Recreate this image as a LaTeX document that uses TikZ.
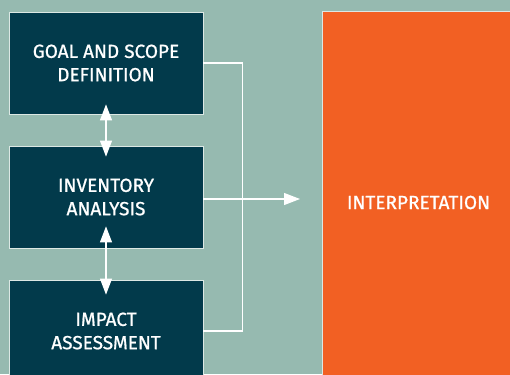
\documentclass[tikz,border=0pt]{standalone}
\usepackage{fontspec}
\setmainfont{Fira Sans}[FakeBold=0.9]
\usetikzlibrary{arrows.meta}
\definecolor{sage}{HTML}{96BAB0}
\definecolor{petrol}{HTML}{023A4B}
\definecolor{tangerine}{HTML}{F26023}
\definecolor{rim}{HTML}{DCE8E4}
\begin{document}
\begin{tikzpicture}[x=1pt,y=-1pt,>={Triangle[width=12pt,length=16pt]},
    stage/.style={rectangle,draw=rim,line width=0.8pt,fill=petrol,text=white,
        minimum width=194pt,minimum height=102pt,inner sep=0pt,align=center,
        font=\fontsize{19}{23.3}\selectfont},
    flow/.style={draw=white,line width=1.1pt}]
\useasboundingbox (0,0) rectangle (510,374);
\clip (0,0) rectangle (510,374);
\fill[sage] (0,0) rectangle (510,374);
\foreach \n/\y/\t in {goal/63/{GOAL AND SCOPE\\DEFINITION},
                      inv/197/{INVENTORY\\ANALYSIS},
                      imp/331/{IMPACT\\ASSESSMENT}} {
    \node[stage] (\n) at (106,\y) {\t};
}
\node[stage,fill=tangerine,minimum width=193pt,minimum height=383pt] (interp) at (418.5,202.5) {INTERPRETATION};
\coordinate (into) at (300,199);
\draw[flow] (goal.east) -- ++(39,0) |- (imp.east);
\draw[flow,->] (inv.east |- into) -- (into);
\draw[flow,<->] ([yshift=10pt]goal.south) -- ([yshift=-11pt]inv.north);
\draw[flow,<->] ([yshift=22pt]inv.south) -- ([yshift=-15pt]imp.north);
\end{tikzpicture}
\end{document}
